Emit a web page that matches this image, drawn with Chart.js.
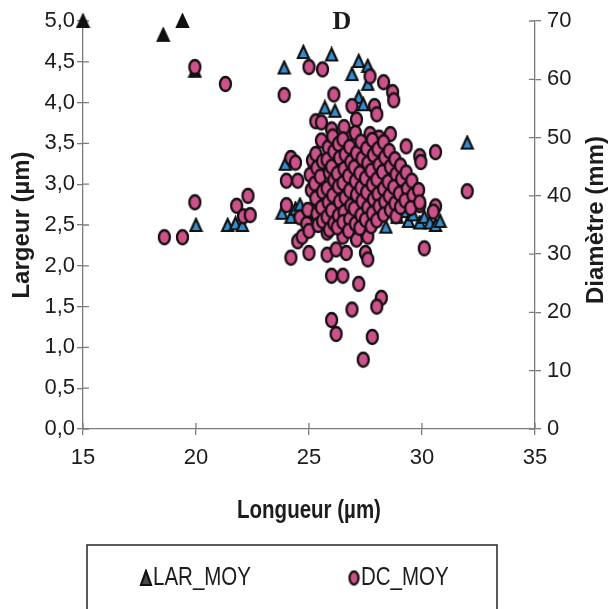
<!DOCTYPE html>
<html>
<head>
<meta charset="utf-8">
<script src="https://cdn.jsdelivr.net/npm/chart.js@4.4.1/dist/chart.umd.min.js"></script>
<style>
  html, body { margin: 0; padding: 0; background: #ffffff; }
  #wrap { width: 612px; height: 609px; }
</style>
</head>
<body>
<div id="wrap"><canvas id="chart" width="612" height="609"></canvas></div>
<script>
// Series labels
const seriesNames = ['LAR_MOY', 'DC_MOY'];

// Axis titles
const xTitle = 'Longueur (µm)';
const yLeftTitle = 'Largeur (µm)';
const yRightTitle = 'Diamètre (mm)';
const panelTitle = 'D';

// Axis ranges / tick steps
const xRange = [15, 35], xStep = 5;
const largeurRange = [0, 5], largeurStep = 0.5;
const diamRange = [0, 70], diamStep = 10;

// LAR_MOY: length (µm) vs width (µm), left axis
const larX = [
  15.0, 18.55, 19.4, 19.95,
  20.0, 21.4, 21.75, 22.05,
  23.9, 23.95, 23.8, 24.2, 24.4, 24.6, 25.0, 25.2,
  25.35, 25.4, 25.5, 25.25, 26.0, 25.7, 26.15, 24.75,
  26.0, 27.2, 26.9, 27.6, 27.6, 27.2, 27.4,
  26.3, 26.7, 26.9, 27.3, 27.8, 28.1, 28.4, 28.7, 28.9,
  29.1, 29.3, 29.4, 29.6, 29.9, 30.1, 30.35, 30.6, 30.8,
  32.0, 26.5, 27.0, 27.8, 28.3, 26.2
];
const larY = [
  5.0, 4.83, 5.0, 4.39,
  2.5, 2.5, 2.52, 2.5,
  4.43, 3.25, 2.65, 2.6, 2.7, 2.75, 2.67, 2.55,
  3.18, 3.02, 2.57, 3.3, 2.67, 3.94, 3.9, 4.62,
  4.59, 4.51, 4.35, 4.45, 4.23, 4.07, 3.98,
  2.6, 2.63, 2.7, 2.55, 2.62, 2.7, 2.48, 2.73, 2.6,
  2.73, 2.67, 2.55, 2.63, 2.53, 2.6, 2.53, 2.5, 2.55,
  3.51, 3.3, 3.1, 3.4, 3.0, 3.6
];

// DC_MOY: length (µm) vs diameter (mm), right axis
const dcX = [
  18.6, 19.4, 19.95, 19.95, 21.3, 23.9, 21.8, 22.1, 22.4, 22.3,
  24.0, 24.2, 24.5, 24.2, 24.4, 24.0, 24.5, 24.6, 24.7,
  25.0, 25.6, 26.1, 26.9, 27.7, 28.3, 28.7, 28.75, 27.9, 28.0, 27.1,
  25.3, 25.55, 26.0, 26.7, 27.7, 28.1, 28.6, 29.3, 30.6, 29.9, 29.95, 32.0,
  25.4, 25.8, 26.5, 27.1, 27.6, 30.1, 25.0, 25.8, 26.65, 27.5, 27.6,
  26.0, 26.5, 27.2, 28.2, 28.0, 26.9, 26.0, 26.2, 27.8, 27.4,
  30.6, 29.9, 30.5, 26.2, 24.9,
  25.1, 25.05, 24.95, 25.15, 25.0,
  25.3, 25.35, 25.25, 25.3, 25.35, 25.4,
  25.55, 25.6, 25.5, 25.6, 25.55, 25.6,
  25.85, 25.8, 25.9, 25.8, 25.85, 25.8, 25.9,
  26.05, 26.1, 26.0, 26.1, 26.05, 26.0, 26.1,
  26.3, 26.35, 26.25, 26.3, 26.35, 26.3, 26.25,
  26.55, 26.5, 26.6, 26.55, 26.5, 26.6, 26.55, 26.5,
  26.8, 26.85, 26.75, 26.8, 26.85, 26.8, 26.75,
  27.05, 27.1, 27.0, 27.05, 27.1, 27.0, 27.05,
  27.3, 27.35, 27.25, 27.3, 27.35, 27.3, 27.25,
  27.55, 27.6, 27.5, 27.55, 27.6, 27.5,
  27.8, 27.85, 27.75, 27.8, 27.85, 27.8, 27.75,
  28.05, 28.1, 28.0, 28.05, 28.1, 28.0,
  28.3, 28.35, 28.25, 28.3, 28.35, 28.3,
  28.55, 28.6, 28.5, 28.55, 28.6,
  28.8, 28.85, 28.75, 28.8, 28.85,
  29.05, 29.1, 29.0, 29.05,
  29.3, 29.35, 29.25,
  29.55, 29.6, 29.5,
  29.85, 29.9
];
const dcY = [
  32.9, 32.9, 38.9, 62.1, 59.2, 57.3, 38.3, 36.5, 36.7, 40.0,
  38.4, 29.4, 32.2, 46.5, 45.7, 42.6, 42.6, 36.3, 33.0,
  62.1, 61.7, 57.4, 55.4, 60.5, 59.5, 57.8, 56.4, 55.4, 54.0, 53.1,
  52.8, 52.6, 51.4, 50.6, 50.6, 50.0, 50.6, 48.5, 47.5, 46.8, 45.8, 40.8,
  38.2, 33.7, 33.0, 32.5, 33.0, 31.0, 30.2, 29.9, 30.2, 30.2, 29.1,
  26.3, 26.3, 24.9, 22.5, 21.0, 20.5, 18.7, 16.3, 15.8, 11.9,
  38.2, 38.4, 37.3, 30.8, 35.2,
  41.0, 43.6, 37.6, 46.1, 34.0,
  47.2, 44.8, 42.1, 39.6, 36.9, 35.0,
  49.5, 45.9, 43.3, 40.7, 38.0, 35.7,
  48.3, 46.2, 44.0, 41.3, 38.9, 36.4, 34.2,
  50.2, 47.6, 45.0, 42.7, 40.1, 37.5, 35.3,
  48.9, 46.5, 43.8, 41.6, 39.0, 36.6, 34.6,
  51.8, 49.7, 47.1, 44.6, 42.2, 39.7, 37.2, 35.5,
  48.4, 45.8, 43.4, 40.9, 38.3, 36.0, 34.0,
  50.8, 47.3, 44.9, 42.5, 40.2, 37.8, 35.2,
  49.3, 46.4, 43.9, 41.4, 39.1, 36.7, 34.5,
  48.1, 45.6, 43.0, 40.6, 38.0, 35.9,
  49.6, 47.0, 44.3, 41.9, 39.4, 37.0, 34.8,
  48.0, 45.3, 42.8, 40.3, 38.2, 35.8,
  49.2, 46.6, 44.1, 41.2, 39.0, 36.8,
  47.7, 45.0, 42.4, 40.0, 37.6,
  46.3, 43.7, 41.5, 38.7, 36.5,
  45.2, 42.9, 40.4, 38.1,
  44.0, 41.2, 39.2,
  42.6, 40.1, 37.9,
  41.0, 38.9
];

// ---- styling ----
const AXIS = '#7c7c7c';
const TEXT = '#1c1c1c';
const PINK = '#d0508c';
const BLUE = '#2f8fd6';
const SANS = "'Liberation Sans', Arial, sans-serif";
const NARROW_SCALE = 0.82;   // horizontal squeeze for the condensed captions

Chart.defaults.font.family = SANS;
Chart.defaults.color = TEXT;

function ellipseMarker(fill, w, h) {
  const c = document.createElement('canvas');
  c.width = w + 4; c.height = h + 4;
  const g = c.getContext('2d');
  g.beginPath();
  g.ellipse(c.width / 2, c.height / 2, w / 2, h / 2, 0, 0, Math.PI * 2);
  g.fillStyle = fill; g.fill();
  g.lineWidth = 2.3; g.strokeStyle = '#111'; g.stroke();
  return c;
}
function triangleMarker(fill, w, h) {
  const c = document.createElement('canvas');
  c.width = w + 4; c.height = h + 4;
  const g = c.getContext('2d');
  g.beginPath();
  g.moveTo(c.width / 2, 2);
  g.lineTo(c.width - 2, c.height - 2);
  g.lineTo(2, c.height - 2);
  g.closePath();
  g.fillStyle = fill; g.fill();
  g.lineJoin = 'miter'; g.lineWidth = 2.2; g.strokeStyle = '#111'; g.stroke();
  return c;
}
const dcMarker = ellipseMarker(PINK, 11, 14);
const larMarker = triangleMarker(BLUE, 11, 12);
const larDarkMarker = triangleMarker('#111', 11, 12);
const legendTri = triangleMarker('#4a4a4a', 10, 14);
const legendDot = ellipseMarker(PINK, 9, 13);

const toPoints = (xs, ys) => xs.map((x, i) => ({ x, y: ys[i] }));
const comma = v => Number(v).toFixed(1).replace('.', ',');

function narrowText(ctx, text, x, y, font, align) {
  ctx.save();
  ctx.font = font;
  ctx.textAlign = align; ctx.textBaseline = 'middle';
  ctx.translate(x, y);
  ctx.scale(NARROW_SCALE, 1);
  ctx.fillText(text, 0, 0);
  ctx.restore();
}

// Tick marks that cross into the plot area
const crossTicks = {
  id: 'crossTicks',
  beforeDatasetsDraw(chart) {
    const { ctx, chartArea: a, scales } = chart;
    const len = 6;
    ctx.save();
    ctx.strokeStyle = AXIS; ctx.lineWidth = 1.3;
    ctx.beginPath();
    scales.x.ticks.forEach((t, i) => { const p = scales.x.getPixelForTick(i); ctx.moveTo(p, a.bottom); ctx.lineTo(p, a.bottom - len); });
    scales.y.ticks.forEach((t, i) => { const p = scales.y.getPixelForTick(i); ctx.moveTo(a.left, p); ctx.lineTo(a.left + len, p); });
    scales.y2.ticks.forEach((t, i) => { const p = scales.y2.getPixelForTick(i); ctx.moveTo(a.right, p); ctx.lineTo(a.right - len, p); });
    ctx.stroke();
    ctx.restore();
  }
};

// Panel letter, condensed x title, right-axis title (reading upward) and the boxed legend
const decorations = {
  id: 'decorations',
  afterDraw(chart) {
    const { ctx, scales, chartArea: a } = chart;
    ctx.save();
    ctx.fillStyle = TEXT;

    // panel letter
    ctx.font = "bold 26px 'Liberation Serif', 'Times New Roman', serif";
    ctx.textAlign = 'center'; ctx.textBaseline = 'middle';
    ctx.fillText(panelTitle, 342, 22);

    // x title
    narrowText(ctx, scales.x.options.title.text, (a.left + a.right) / 2, 511, 'bold 25px ' + SANS, 'center');

    // right axis title
    const r = scales.y2;
    ctx.save();
    ctx.translate(596, (r.top + r.bottom) / 2 - 5);
    ctx.rotate(-Math.PI / 2);
    ctx.font = 'bold 24px ' + SANS;
    ctx.textAlign = 'center'; ctx.textBaseline = 'middle';
    ctx.fillText(r.options.title.text, 0, 0);
    ctx.restore();

    // legend box
    ctx.strokeStyle = '#333'; ctx.lineWidth = 1.6;
    ctx.strokeRect(87, 545, 410, 80);
    const ly = 578;
    const ds = chart.data.datasets;
    ctx.drawImage(legendTri, 146 - legendTri.width / 2, ly - legendTri.height / 2);
    narrowText(ctx, ds[0].label, 153, ly, '25px ' + SANS, 'left');
    ctx.drawImage(legendDot, 354 - legendDot.width / 2, ly - legendDot.height / 2);
    narrowText(ctx, ds[1].label, 361, ly, '25px ' + SANS, 'left');
    ctx.restore();
  }
};

new Chart(document.getElementById('chart'), {
  type: 'scatter',
  data: {
    datasets: [
      {
        label: seriesNames[0],
        data: toPoints(larX, larY),
        yAxisID: 'y',
        order: 2,
        clip: false,
        pointStyle: c => (c.raw && c.raw.x < 21 && c.raw.y > 4.3) ? larDarkMarker : larMarker,
        pointRadius: 6,
        pointHoverRadius: 6
      },
      {
        label: seriesNames[1],
        data: toPoints(dcX, dcY),
        yAxisID: 'y2',
        order: 1,
        clip: false,
        pointStyle: dcMarker,
        pointRadius: 6,
        pointHoverRadius: 6
      }
    ]
  },
  options: {
    responsive: false,
    animation: false,
    events: [],
    layout: { padding: { top: 21, bottom: 80, left: 0, right: 0 } },
    plugins: { legend: { display: false }, tooltip: { enabled: false } },
    scales: {
      x: {
        type: 'linear', position: 'bottom',
        min: xRange[0], max: xRange[1],
        afterFit: s => { s.height = 100; },
        ticks: { stepSize: xStep, font: { size: 22 }, color: TEXT, padding: 10 },
        grid: { drawOnChartArea: false, color: AXIS, tickLength: 6, lineWidth: 1.3 },
        border: { color: AXIS, width: 1.3 },
        title: { display: false, text: xTitle }
      },
      y: {
        type: 'linear', position: 'left',
        min: largeurRange[0], max: largeurRange[1],
        afterFit: s => { s.width = 83; },
        ticks: { stepSize: largeurStep, font: { size: 22 }, color: TEXT, padding: 2, callback: v => comma(v) },
        grid: { drawOnChartArea: false, color: AXIS, tickLength: 6, lineWidth: 1.3 },
        border: { color: AXIS, width: 1.3 },
        title: { display: true, text: yLeftTitle, color: TEXT,
                 font: { size: 24, weight: 'bold' }, padding: { top: 8, bottom: 0 } }
      },
      y2: {
        type: 'linear', position: 'right',
        min: diamRange[0], max: diamRange[1],
        afterFit: s => { s.width = 77; },
        ticks: { stepSize: diamStep, font: { size: 22 }, color: TEXT, padding: 6 },
        grid: { drawOnChartArea: false, color: AXIS, tickLength: 6, lineWidth: 1.3 },
        border: { color: AXIS, width: 1.3 },
        title: { display: false, text: yRightTitle }
      }
    }
  },
  plugins: [crossTicks, decorations]
});
</script>
</body>
</html>
